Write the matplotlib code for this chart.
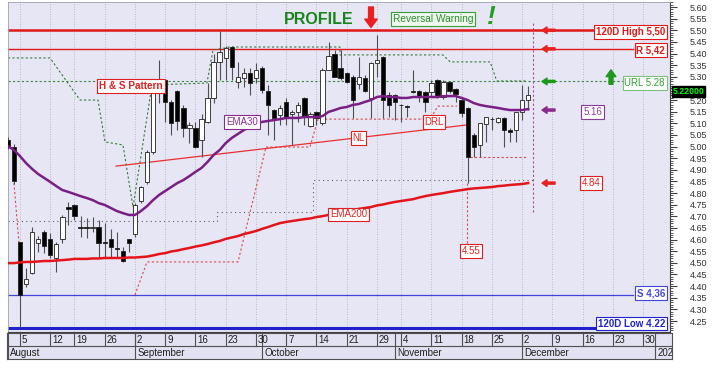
import datetime as dt
import numpy as np
import matplotlib
matplotlib.use("Agg")
import matplotlib.pyplot as plt
from matplotlib.ticker import MultipleLocator, FixedLocator, FuncFormatter
from matplotlib.transforms import blended_transform_factory

plt.rcParams['font.family'] = ['Liberation Sans', 'DejaVu Sans']

# ---------------- data ----------------
first_day = dt.date(2024, 8, 1)
last_axis_day = dt.date(2025, 1, 3)
market_holidays = [dt.date(2024, 8, 15), dt.date(2024, 10, 28)]

opens = [5.03, 5.00, 4.59, 4.41, 4.456, 4.585, 4.633, 4.602, 4.521, 4.602,
         4.740, 4.749, 4.656, 4.655, 4.652, 4.654, 4.590, 4.602, 4.562, 4.551,
         4.602, 4.624, 4.765, 4.848, 4.977, 5.26, 5.286, 5.192, 5.239, 5.166,
         5.080, 5.080, 5.028, 5.106, 5.209, 5.364, 5.380, 5.428, 5.278, 5.295,
         5.316, 5.295, 5.338, 5.239, 5.157, 5.136, 5.192, 5.140, 5.149, 5.209,
         5.088, 5.149, 5.101, 5.329, 5.398, 5.338, 5.316, 5.299, 5.269, 5.295,
         5.209, 5.359, 5.385, 5.222, 5.222, 5.180, 5.175, 5.240, 5.239, 5.235,
         5.235, 5.286, 5.213, 5.278, 5.247, 5.200, 5.166, 5.050, 5.007, 5.097,
         5.120, 5.106, 5.123, 5.071, 5.071, 5.149, 5.200]
highs = [5.04, 5.01, 4.59, 4.478, 4.654, 4.615, 4.641, 4.628, 4.590, 4.706,
         4.762, 4.753, 4.701, 4.693, 4.697, 4.684, 4.671, 4.646, 4.633, 4.568,
         4.602, 4.757, 4.830, 4.985, 5.252, 5.372, 5.290, 5.200, 5.243, 5.179,
         5.106, 5.106, 5.140, 5.273, 5.400, 5.497, 5.433, 5.433, 5.364, 5.338,
         5.338, 5.359, 5.345, 5.265, 5.160, 5.179, 5.209, 5.157, 5.192, 5.213,
         5.149, 5.153, 5.338, 5.450, 5.415, 5.415, 5.320, 5.308, 5.385, 5.308,
         5.364, 5.480, 5.389, 5.235, 5.226, 5.183, 5.179, 5.329, 5.243, 5.240,
         5.286, 5.290, 5.286, 5.282, 5.252, 5.213, 5.170, 5.058, 5.101, 5.127,
         5.127, 5.127, 5.127, 5.080, 5.149, 5.265, 5.260]
lows = [4.99, 4.84, 4.224, 4.396, 4.450, 4.547, 4.542, 4.521, 4.461, 4.585,
        4.663, 4.684, 4.611, 4.607, 4.633, 4.521, 4.521, 4.521, 4.521, 4.504,
        4.547, 4.611, 4.757, 4.840, 4.970, 5.187, 5.106, 5.050, 5.071, 5.041,
        5.015, 4.994, 4.955, 5.101, 5.187, 5.286, 5.286, 5.286, 5.252, 5.256,
        5.222, 5.273, 5.230, 5.050, 5.028, 5.093, 5.093, 5.007, 5.106, 5.093,
        5.084, 5.093, 5.093, 5.329, 5.299, 5.286, 5.273, 5.123, 5.247, 5.235,
        5.123, 5.299, 5.123, 5.127, 5.114, 5.106, 5.127, 5.230, 5.192, 5.149,
        5.213, 5.209, 5.205, 5.230, 5.192, 5.127, 4.845, 4.955, 4.955, 5.020,
        5.071, 5.101, 4.998, 5.020, 5.020, 5.114, 5.157]
closes = [5.00, 4.85, 4.362, 4.431, 4.633, 4.602, 4.572, 4.534, 4.580, 4.697,
          4.732, 4.701, 4.652, 4.652, 4.656, 4.585, 4.585, 4.568, 4.558, 4.508,
          4.585, 4.749, 4.826, 4.977, 5.243, 5.247, 5.192, 5.101, 5.110, 5.080,
          5.093, 4.998, 5.118, 5.209, 5.364, 5.407, 5.424, 5.342, 5.299, 5.316,
          5.273, 5.329, 5.243, 5.179, 5.123, 5.166, 5.123, 5.149, 5.179, 5.127,
          5.140, 5.123, 5.329, 5.389, 5.299, 5.295, 5.278, 5.200, 5.299, 5.239,
          5.359, 5.372, 5.200, 5.179, 5.192, 5.177, 5.172, 5.235, 5.213, 5.192,
          5.273, 5.213, 5.278, 5.239, 5.226, 5.144, 4.955, 4.998, 5.101, 5.127,
          5.118, 5.123, 5.071, 5.063, 5.149, 5.200, 5.220]
ema30 = [5.002, 4.985, 4.959, 4.929, 4.904, 4.882, 4.865, 4.848, 4.830, 4.813,
         4.805, 4.796, 4.787, 4.779, 4.770, 4.757, 4.749, 4.736, 4.723, 4.714,
         4.706, 4.706, 4.723, 4.744, 4.770, 4.792, 4.809, 4.826, 4.843, 4.856,
         4.873, 4.891, 4.908, 4.934, 4.964, 4.985, 5.015, 5.037, 5.054, 5.071,
         5.084, 5.097, 5.106, 5.110, 5.114, 5.118, 5.123, 5.123, 5.123, 5.127,
         5.127, 5.127, 5.131, 5.149, 5.157, 5.166, 5.170, 5.179, 5.183, 5.192,
         5.200, 5.213, 5.217, 5.213, 5.213, 5.209, 5.209, 5.213, 5.213, 5.213,
         5.213, 5.213, 5.217, 5.217, 5.217, 5.209, 5.200, 5.187, 5.179, 5.174,
         5.170, 5.166, 5.161, 5.157, 5.157, 5.157, 5.161]
ema200 = [4.499, 4.499, 4.502, 4.504, 4.504, 4.506, 4.508, 4.508, 4.510, 4.512,
          4.514, 4.517, 4.517, 4.517, 4.519, 4.519, 4.521, 4.521, 4.521, 4.521,
          4.523, 4.523, 4.525, 4.527, 4.532, 4.538, 4.542, 4.549, 4.553, 4.559,
          4.564, 4.570, 4.575, 4.581, 4.588, 4.594, 4.603, 4.609, 4.615, 4.624,
          4.630, 4.637, 4.646, 4.654, 4.663, 4.671, 4.676, 4.680, 4.684, 4.688,
          4.691, 4.697, 4.701, 4.706, 4.710, 4.716, 4.721, 4.727, 4.732, 4.736,
          4.740, 4.747, 4.751, 4.757, 4.762, 4.766, 4.770, 4.774, 4.781, 4.787,
          4.792, 4.796, 4.800, 4.805, 4.809, 4.813, 4.817, 4.820, 4.822, 4.824,
          4.826, 4.830, 4.832, 4.835, 4.837, 4.839, 4.843]

# horizontal levels
level_values = [5.50, 5.42, 5.28, 4.36, 4.22]
level_labels = ['120D High 5,50', 'R 5,42', 'URL 5.28', 'S 4,36', '120D Low 4.22']
last_price = 5.22
ema30_last = 5.16
ema200_last = 4.84
target_price = 4.55

# indicator step lines (x in trading-day index, y in price)
green_trail_x = [0, 6.96, 11.92, 14.89, 16.05, 19.02, 20.68, 23.82, 32.9, 33.9,
                 36.7, 54.9, 54.9, 71.9, 73.1, 79.7, 80.8, 85.8]
green_trail_y = [5.381, 5.381, 5.200, 5.200, 5.020, 5.007, 4.740, 5.265, 5.273, 5.415,
                 5.428, 5.428, 5.394, 5.394, 5.364, 5.364, 5.282, 5.282]
red_trail_x = [21.0, 22.99, 38.03, 42.66, 49.93, 51.26, 69.77, 71.09, 74.23]
red_trail_y = [4.362, 4.504, 4.504, 4.998, 4.998, 5.118, 5.118, 5.174, 5.174]
red_drop_x = [1.0, 1.83]
red_drop_y = [4.843, 4.585]
gray_step_x = [0, 34.56, 34.56, 50.4, 50.4, 86.8]
gray_step_y = [4.681, 4.681, 4.719, 4.719, 4.856, 4.856]
neckline_x = [17.87, 75.9]
neckline_y = [4.916, 5.093]
support_x = [76.4, 85.8]
support_y = [4.955, 4.955]

# ---------------- derived calendar ----------------
days = []
d = first_day
while d <= last_axis_day:
    if d.weekday() < 5 and d not in market_holidays:
        days.append(d)
    d += dt.timedelta(days=1)

week_starts = [i for i in range(1, len(days))
               if days[i].isocalendar()[1] != days[i - 1].isocalendar()[1]]
month_starts = [0] + [i for i in range(1, len(days)) if days[i].month != days[i - 1].month]

# ---------------- figure ----------------
W, H = 721, 375
fig = plt.figure(figsize=(W / 100, H / 100), dpi=100)
fig.patch.set_facecolor('white')

PXD = 6.05  # pixels per trading day


def px2i(px):
    return (px - 20) / PXD + 2


ax = fig.add_axes([8 / W, 1 - 332 / H, 662 / W, 330 / H])
ax.set_facecolor('#E6E6F5')
ax.set_xlim(px2i(8), px2i(670))
ax.set_ylim(4.2028, 5.6215)

# vertical dotted grid
for i in week_starts:
    ax.axvline(i, color='#A8A8B8', lw=0.6, ls=(0, (1, 2)), zorder=1)

# horizontal levels
lvl_colors = ['#E01818', '#E01818', '#3A8A3A', '#4444DD', '#2222CC']
lvl_lw = [1.8, 1.0, 0.8, 0.9, 2.2]
lvl_ls = ['-', '-', (0, (2, 2)), '-', '-']
lvl_end = [px2i(595), px2i(633), px2i(627), px2i(633), px2i(594)]
lvl_text_y = [5.493, 5.415, 5.273, 4.370, 4.239]
for v, lab, c, lw, ls, xe, ty in zip(level_values, level_labels, lvl_colors, lvl_lw,
                                     lvl_ls, lvl_end, lvl_text_y):
    ax.plot([ax.get_xlim()[0], xe], [v, v], color=c, lw=lw, ls=ls, zorder=2)
    is_url = lab.startswith('URL')
    ax.text(px2i(665), ty, lab, ha='right', va='center', fontsize=7,
            fontweight='normal' if is_url else 'bold',
            color='#2EA02E' if is_url else c, zorder=10,
            bbox=dict(boxstyle='square,pad=0.18', fc='white',
                      ec='#7CC07C' if is_url else c, lw=0.8))

# indicator lines
ax.plot(gray_step_x, gray_step_y, color='#606060', lw=0.8, ls=(0, (1, 3)), zorder=2)
ax.plot(green_trail_x, green_trail_y, color='#3A7A3A', lw=0.8, ls=(0, (2, 2)), zorder=2)
ax.plot(red_trail_x, red_trail_y, color='#E04848', lw=0.8, ls=(0, (2, 2)), zorder=2)
ax.plot(red_drop_x, red_drop_y, color='#E04848', lw=0.8, ls=(0, (2, 2)), zorder=2)
ax.plot(support_x, support_y, color='#E04848', lw=0.8, ls=(0, (2, 2)), zorder=2)
ax.plot([75.9, 75.9], [lows[76], target_price + 0.022], color='#E04848', lw=0.8,
        ls=(0, (2, 2)), zorder=2)
ax.plot(neckline_x, neckline_y, color='#E83030', lw=0.9, zorder=2)
ax.plot([px2i(533), px2i(533)], [4.719, 5.531], color='#B04890', lw=0.8,
        ls=(0, (2, 2)), zorder=2)

# candles
n = len(opens)
x = np.arange(n)
o = np.array(opens); h = np.array(highs); l = np.array(lows); c = np.array(closes)
up = c >= o
ax.vlines(x, l, h, color='#505050', lw=0.8, zorder=3)
ax.bar(x, np.maximum(np.abs(c - o), 0.0025), bottom=np.minimum(o, c), width=0.72,
       color=np.where(up, 'white', 'black'), edgecolor='#202020', linewidth=0.6, zorder=4)

# moving averages
ax.plot(x, ema200, color='#E3141B', lw=1.8, zorder=5)
ax.plot(x, ema30, color='#7A1F84', lw=1.8, zorder=5)


def box(xp, yp, s, col, fs=7, bold=False):
    ax.text(xp, yp, s, ha='center', va='center', fontsize=fs, color=col,
            fontweight='bold' if bold else 'normal', zorder=10,
            bbox=dict(boxstyle='square,pad=0.18', fc='white', ec=col, lw=0.8))


box(px2i(131), 5.260, 'H & S Pattern', '#E02020', fs=7.2, bold=True)
box(px2i(242), 5.106, 'EMA30', '#8B2A8B')
box(px2i(358.5), 5.037, 'NL', '#E02020')
box(px2i(434), 5.106, 'DRL', '#E02020')
box(px2i(348.5), 4.708, 'EMA200', '#E02020')
box(px2i(471), target_price, f'{target_price:.2f}', '#E02020')
box(px2i(592.5), 5.149, f'{ema30_last:.2f}', '#8B3A9B')
box(px2i(591), 4.843, f'{ema200_last:.2f}', '#E02020')

# header texts
ax.text(px2i(319), 5.548, 'PROFILE', ha='center', va='center', fontsize=11.5,
        fontweight='bold', color='#178517', zorder=10)
ax.text(px2i(433), 5.548, 'Reversal Warning', ha='center', va='center', fontsize=7.3,
        color='#2E8B2E', zorder=10,
        bbox=dict(boxstyle='square,pad=0.18', fc='#EEF8EE', ec='#3C9C3C', lw=0.8))
ax.text(px2i(491), 5.556, '!', ha='center', va='center', fontsize=19,
        fontweight='bold', fontstyle='italic', color='#20A020', zorder=10)

# arrows
ax.annotate('', xy=(px2i(371), 5.512), xytext=(px2i(371), 5.600),
            arrowprops=dict(arrowstyle='simple,head_length=0.6,head_width=0.9,tail_width=0.35',
                            color='#E82020', mutation_scale=10, shrinkA=0, shrinkB=0),
            zorder=10)
ax.annotate('', xy=(px2i(611), 5.330), xytext=(px2i(611), 5.268),
            arrowprops=dict(arrowstyle='simple,head_length=0.7,head_width=1.0,tail_width=0.4',
                            color='#1A9A1A', mutation_scale=7, shrinkA=0, shrinkB=0),
            zorder=10)
for yv, col in [(level_values[0], '#E82020'), (level_values[1], '#E82020'),
                (level_values[2], '#1A9A1A'), (5.157, '#8B2A8B'), (4.843, '#E82020')]:
    ax.annotate('', xy=(px2i(542), yv), xytext=(px2i(555), yv),
                arrowprops=dict(arrowstyle='simple,head_length=0.6,head_width=0.8,tail_width=0.25',
                                color=col, mutation_scale=6, shrinkA=0, shrinkB=0),
                zorder=10)

# axes styling
ax.set_xticks([])
ax.yaxis.tick_right()
ax.yaxis.set_major_locator(FixedLocator(np.round(np.arange(4.25, 5.6001, 0.05), 2)))
ax.yaxis.set_minor_locator(MultipleLocator(0.01))
# the tick label hidden behind the last-price tag is left empty
ax.yaxis.set_major_formatter(FuncFormatter(
    lambda v, p: '' if abs(v - 5.25) < 1e-6 else f'{v:.2f}'))
ax.tick_params(axis='y', which='major', length=5, width=0.8, color='#404040',
               labelsize=6.5, labelcolor='#303030', pad=9)
ax.tick_params(axis='y', which='minor', length=2.5, width=0.6, color='#404040')
for s in ['left', 'top']:
    ax.spines[s].set_color('#A0A0B0'); ax.spines[s].set_linewidth(0.6)
for s in ['right', 'bottom']:
    ax.spines[s].set_color('#404040'); ax.spines[s].set_linewidth(0.8)

# last price tag
tr = blended_transform_factory(ax.transAxes, ax.transData)
ax.text(1.004, last_price + 0.016, f'{last_price:.5f}', transform=tr, ha='left',
        va='center', fontsize=6.3, fontweight='bold', color='#00FF00', zorder=12,
        clip_on=False, bbox=dict(boxstyle='square,pad=0.12', fc='black', ec='black'))

# ---------------- date bar ----------------
dax = fig.add_axes([7 / W, 1 - 359 / H, 665 / W, 26 / H])
dax.set_facecolor('#E2E2F2')
dax.set_xlim(px2i(7), px2i(672))
dax.set_ylim(0, 2)
dax.set_xticks([]); dax.set_yticks([])
for s in dax.spines.values():
    s.set_color('#505050'); s.set_linewidth(0.8)
dax.axhline(1, color='#505050', lw=0.8)
for i in week_starts:
    dax.plot([i, i], [1, 2], color='#505050', lw=0.8)
    dax.text(i + 0.3, 1.45, str(days[i].day), ha='left', va='center', fontsize=7,
             color='#202020', clip_on=True)
for i in month_starts:
    dax.plot([i, i], [0, 2], color='#505050', lw=0.8)
    lab = str(days[i].year) if days[i].month == 1 else days[i].strftime('%B')
    dax.text(i + 0.35, 0.45, lab, ha='left', va='center', fontsize=7,
             color='#202020', clip_on=True)

fig.savefig('out.png', dpi=100, facecolor=fig.get_facecolor())
